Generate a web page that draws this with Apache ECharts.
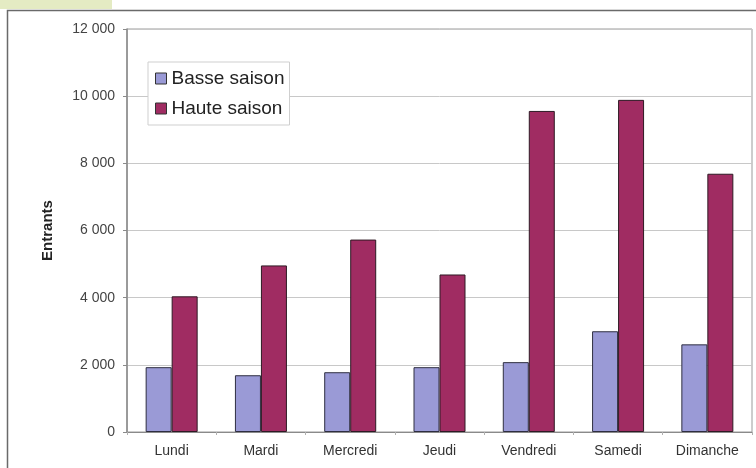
<!DOCTYPE html>
<html>
<head>
<meta charset="utf-8">
<script src="https://cdn.jsdelivr.net/npm/echarts@6/dist/echarts.min.js"></script>
<style>
  html, body { margin: 0; padding: 0; background: #fff; }
  #chart { width: 756px; height: 468px; }
</style>
</head>
<body>
<div id="chart"></div>
<script>
// jours de la semaine
const categories = ['Lundi', 'Mardi', 'Mercredi', 'Jeudi', 'Vendredi', 'Samedi', 'Dimanche'];
// entrants par jour
const basseSaison = [1930, 1690, 1780, 1930, 2080, 3000, 2610];
const hauteSaison = [4040, 4960, 5730, 4690, 9560, 9890, 7690];
const seriesNames = ['Basse saison', 'Haute saison'];

const font = 'Liberation Sans, Arial, sans-serif';

// 12000 -> "12 000"
function fmt(v) {
  return String(v).replace(/\B(?=(\d{3})+(?!\d))/g, ' ');
}

const chart = echarts.init(document.getElementById('chart'), null, { renderer: 'canvas' });

chart.setOption({
  backgroundColor: '#fff',
  animation: false,
  textStyle: { fontFamily: font },
  graphic: [
    {
      type: 'rect',
      shape: { x: 0, y: 0, width: 112, height: 9 },
      style: { fill: '#e4ebc3' },
      silent: true
    },
    {
      type: 'rect',
      shape: { x: 7.5, y: 10.5, width: 800, height: 520 },
      style: { fill: 'none', stroke: '#6a6a6a', lineWidth: 1.5 },
      silent: true
    }
  ],
  grid: {
    left: 127,
    right: 4,
    top: 29,
    bottom: 36,
    show: true,
    borderColor: '#9a9a9a',
    borderWidth: 1,
    backgroundColor: 'transparent'
  },
  legend: {
    data: seriesNames,
    orient: 'vertical',
    left: 148,
    top: 62,
    padding: [7, 5, 7, 7],
    itemGap: 11,
    itemWidth: 11,
    itemHeight: 11,
    itemStyle: { borderColor: '#333', borderWidth: 1 },
    icon: 'rect',
    textStyle: { fontSize: 19, color: '#222', fontFamily: font },
    borderColor: '#cfcfcf',
    borderWidth: 1,
    backgroundColor: '#fff'
  },
  xAxis: {
    type: 'category',
    data: categories,
    axisLine: { lineStyle: { color: '#8a8a8a', width: 1 } },
    axisTick: { show: true, length: 3, lineStyle: { color: '#b0b0b0' } },
    axisLabel: { fontSize: 14, color: '#333', margin: 12, fontFamily: font }
  },
  yAxis: {
    type: 'value',
    min: 0,
    max: 12000,
    interval: 2000,
    name: 'Entrants',
    nameLocation: 'middle',
    nameRotate: 90,
    nameGap: 72,
    nameTextStyle: { fontSize: 15, fontWeight: 'bold', color: '#222', fontFamily: font },
    axisLine: { show: true, lineStyle: { color: '#8a8a8a', width: 1.5 } },
    axisTick: { show: true, length: 4, lineStyle: { color: '#8a8a8a' } },
    axisLabel: { fontSize: 14, color: '#444', margin: 12, formatter: fmt, fontFamily: font },
    splitLine: { show: true, lineStyle: { color: '#c8c8c8', width: 1 } }
  },
  series: [
    {
      name: seriesNames[0],
      type: 'bar',
      data: basseSaison,
      barWidth: 26,
      barGap: '0%',
      itemStyle: { color: '#9a9ad6', borderColor: '#2e2e40', borderWidth: 1 }
    },
    {
      name: seriesNames[1],
      type: 'bar',
      data: hauteSaison,
      barWidth: 26,
      itemStyle: { color: '#a02c62', borderColor: '#2e1a24', borderWidth: 1 }
    }
  ]
});
</script>
</body>
</html>
